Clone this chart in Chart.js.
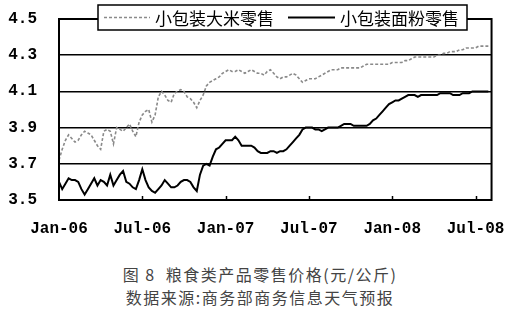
<!DOCTYPE html>
<html>
<head>
<meta charset="utf-8">
<script src="https://cdn.jsdelivr.net/npm/chart.js@4"></script>
<style>
    body { margin: 0; background: #fff; }
    #wrap { position: relative; width: 516px; height: 250px; }
    .caption {
        width: 516px;
        padding-left: 2px;
        text-align: center;
        font-family: "Noto Sans CJK SC", sans-serif;
        font-size: 16px;
        letter-spacing: 1.5px;
        color: #444;
        line-height: 23px;
    }
    #cap1 { margin-top: 13px; }
</style>
</head>
<body>
<div id="wrap"><canvas id="graficoPrecos" width="516" height="250"></canvas></div>
<div class="caption" id="cap1">图 8&nbsp; 粮食类产品零售价格(元/公斤)</div>
<div class="caption">数据来源:商务部商务信息天气预报</div>

<script>
// weekly prices, Jan 2006 .. Aug 2008 (yuan/kg)
const seriesNames = ['小包装大米零售', '小包装面粉零售'];

const riceValues = [
    3.72, 3.78, 3.83, 3.86, 3.84, 3.82, 3.83, 3.86, 3.88, 3.87,
    3.86, 3.83, 3.80, 3.78, 3.88, 3.89, 3.88, 3.81, 3.90, 3.89,
    3.88, 3.90, 3.92, 3.88, 3.85, 3.93, 3.97, 3.99, 4.00, 3.93,
    3.97, 4.07, 4.10, 4.08, 4.05, 4.04, 4.09, 4.10, 4.11, 4.10,
    4.07, 4.06, 4.04, 4.01, 4.05, 4.08, 4.13, 4.15, 4.16, 4.17,
    4.18, 4.20, 4.21, 4.22, 4.21, 4.21, 4.22, 4.21, 4.20, 4.21,
    4.22, 4.21, 4.20, 4.20, 4.19, 4.21, 4.22, 4.20, 4.18, 4.17,
    4.18, 4.18, 4.19, 4.20, 4.19, 4.17, 4.15, 4.16, 4.17, 4.17,
    4.17, 4.18, 4.19, 4.20, 4.21, 4.22, 4.22, 4.22, 4.23, 4.23,
    4.23, 4.23, 4.23, 4.23, 4.23, 4.24, 4.25, 4.25, 4.25, 4.25,
    4.25, 4.25, 4.25, 4.25, 4.26, 4.26, 4.26, 4.26, 4.27, 4.27,
    4.28, 4.29, 4.29, 4.29, 4.29, 4.29, 4.29, 4.29, 4.30, 4.30,
    4.31, 4.31, 4.32, 4.32, 4.32, 4.33, 4.33, 4.34, 4.34, 4.34,
    4.34, 4.35, 4.35, 4.35, 4.35
];

const flourValues = [
    3.60, 3.56, 3.59, 3.62, 3.61, 3.61, 3.60, 3.56, 3.53, 3.56,
    3.59, 3.62, 3.58, 3.61, 3.60, 3.58, 3.64, 3.58, 3.61, 3.64,
    3.66, 3.60, 3.59, 3.57, 3.56, 3.61, 3.67, 3.61, 3.57, 3.55,
    3.54, 3.56, 3.58, 3.61, 3.59, 3.57, 3.57, 3.58, 3.60, 3.61,
    3.61, 3.60, 3.57, 3.55, 3.64, 3.69, 3.70, 3.69, 3.74, 3.78,
    3.79, 3.81, 3.83, 3.83, 3.83, 3.85, 3.83, 3.80, 3.80, 3.80,
    3.80, 3.79, 3.77, 3.76, 3.76, 3.76, 3.77, 3.77, 3.76, 3.77,
    3.77, 3.78, 3.80, 3.82, 3.84, 3.86, 3.89, 3.90, 3.90, 3.90,
    3.89, 3.89, 3.88, 3.89, 3.90, 3.90, 3.90, 3.90, 3.91, 3.92,
    3.92, 3.92, 3.91, 3.91, 3.91, 3.91, 3.91, 3.92, 3.94, 3.95,
    3.97, 3.99, 4.01, 4.03, 4.04, 4.05, 4.05, 4.06, 4.07, 4.08,
    4.08, 4.08, 4.07, 4.08, 4.08, 4.08, 4.08, 4.08, 4.08, 4.09,
    4.09, 4.09, 4.09, 4.08, 4.08, 4.08, 4.09, 4.09, 4.09, 4.10,
    4.10, 4.10, 4.10, 4.10, 4.10
];

// x ticks: week index of each label
const tickWeeks = [0, 26, 52, 78, 104, 130];
const tickLabels = ['Jan-06', 'Jul-06', 'Jan-07', 'Jul-07', 'Jan-08', 'Jul-08'];

const yTicks = [3.5, 3.7, 3.9, 4.1, 4.3, 4.5];

const toPoints = arr => arr.map((v, i) => ({ x: i, y: v }));

const tickFont = { family: 'Liberation Mono', size: 16, weight: 'bold' };

// frame round the plot + short inside ticks on the bottom axis
const framePlugin = {
    id: 'frame',
    afterDatasetsDraw(chart) {
        const { ctx, chartArea: a } = chart;
        const xs = chart.scales.x;
        ctx.save();
        ctx.strokeStyle = '#000';
        ctx.lineWidth = 2;
        ctx.strokeRect(a.left, a.top, a.right - a.left, a.bottom - a.top);
        ctx.lineWidth = 1.5;
        tickWeeks.slice(1).forEach(w => {
            const px = Math.round(xs.getPixelForValue(w)) + 0.5;
            ctx.beginPath();
            ctx.moveTo(px, a.bottom);
            ctx.lineTo(px, a.bottom - 4);
            ctx.stroke();
        });
        ctx.restore();
    }
};

// boxed legend sitting on top of the plot border
const boxLegend = {
    id: 'boxLegend',
    afterDraw(chart) {
        const ctx = chart.ctx;
        const ds = chart.data.datasets;
        const box = { x: 98, y: 5, w: 369, h: 25 };
        const cy = box.y + box.h / 2;
        ctx.save();
        ctx.fillStyle = '#fff';
        ctx.fillRect(box.x, box.y, box.w, box.h);
        ctx.strokeStyle = '#000';
        ctx.lineWidth = 1.5;
        ctx.strokeRect(box.x, box.y, box.w, box.h);

        const items = [
            { x1: 104, x2: 150, tx: 155 },
            { x1: 288, x2: 335, tx: 340 }
        ];
        ctx.font = '17px "Noto Sans CJK SC"';
        ctx.textBaseline = 'middle';
        items.forEach((it, i) => {
            ctx.strokeStyle = ds[i].borderColor;
            ctx.lineWidth = ds[i].borderWidth;
            ctx.setLineDash(ds[i].borderDash || []);
            ctx.beginPath();
            ctx.moveTo(it.x1, cy);
            ctx.lineTo(it.x2, cy);
            ctx.stroke();
            ctx.setLineDash([]);
            ctx.fillStyle = '#000';
            ctx.fillText(ds[i].label, it.tx, cy + 1);
        });
        ctx.restore();
    }
};

document.addEventListener('DOMContentLoaded', function () {
    const ctx = document.getElementById('graficoPrecos');

    new Chart(ctx, {
        type: 'line',
        data: {
            datasets: [{
                label: seriesNames[0],
                data: toPoints(riceValues),
                borderColor: '#8a8a8a',
                borderWidth: 1.6,
                borderDash: [3, 2],
                pointRadius: 0,
                tension: 0
            }, {
                label: seriesNames[1],
                data: toPoints(flourValues),
                borderColor: '#000',
                borderWidth: 2,
                pointRadius: 0,
                tension: 0
            }]
        },
        options: {
            responsive: false,
            animation: false,
            layout: { padding: { top: 19, right: 18, left: 0, bottom: 0 } },
            plugins: {
                legend: { display: false },
                tooltip: { enabled: false }
            },
            scales: {
                x: {
                    type: 'linear',
                    min: 0,
                    max: 135,
                    grid: { display: false },
                    border: { display: false },
                    afterBuildTicks: scale => {
                        scale.ticks = tickWeeks.map(v => ({ value: v }));
                    },
                    afterFit: scale => { scale.height = 50; },
                    ticks: {
                        autoSkip: false,
                        maxRotation: 0,
                        padding: 11,
                        color: '#000',
                        font: tickFont,
                        callback: value => tickLabels[tickWeeks.indexOf(value)]
                    }
                },
                y: {
                    min: 3.5,
                    max: 4.5,
                    afterBuildTicks: scale => {
                        scale.ticks = yTicks.map(v => ({ value: v }));
                    },
                    afterFit: scale => { scale.width = 59; },
                    grid: {
                        color: '#000',
                        lineWidth: 1.5,
                        drawTicks: true,
                        tickLength: 20,
                        tickColor: 'rgba(0,0,0,0)'
                    },
                    border: { color: '#000', width: 2 },
                    ticks: {
                        padding: 2,
                        color: '#000',
                        font: tickFont,
                        callback: value => value.toFixed(1)
                    }
                }
            }
        },
        plugins: [framePlugin, boxLegend]
    });
});
</script>
</body>
</html>
